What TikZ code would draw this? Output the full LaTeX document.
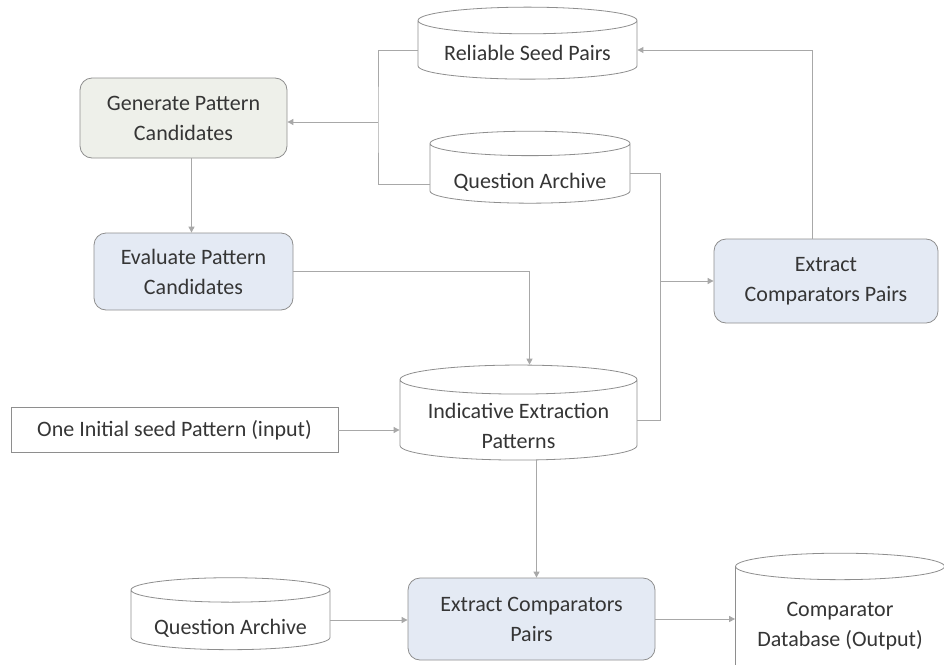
\documentclass[tikz,border=0pt]{standalone}
\usepackage{fontspec}
\setmainfont{Carlito}
\usetikzlibrary{shapes.geometric,arrows.meta}
\definecolor{linegray}{HTML}{A8A8A8}
\definecolor{edgegray}{HTML}{8E8E8E}
\definecolor{txtgray}{HTML}{353535}
\definecolor{greenfill}{HTML}{EEF0EA}
\definecolor{bluefill}{HTML}{E4EAF4}
\begin{document}
\begin{tikzpicture}[x=1pt, y=-1pt,
		every node/.style={font=\fontsize{22}{30}\selectfont, text=txtgray, align=center},
		proc/.style={draw=edgegray, line width=0.8pt, rounded corners=12pt, fill=bluefill, inner sep=0pt},
		store/.style={draw=edgegray, line width=0.8pt, cylinder, shape border rotate=90, aspect=0.16, fill=white, inner sep=0pt},
		lift/.style={execute at begin node={\rule{0pt}{#1}}},
		link/.style={draw=linegray, line width=0.9pt},
		arr/.style={link, -{Triangle[length=6pt,width=6pt]}}]
				\useasboundingbox (0,0) rectangle (944,664);
				%stores
				\node (rsp) at (527.5,50) [store, lift=21pt, minimum width=219pt, minimum height=72pt]{Reliable Seed Pairs};
				\node (qa) at (530,173.5) [store, lift=32pt, minimum width=200pt, minimum height=63pt]{Question Archive};
				\node (iep) at (518.5,420) [store, inner ysep=-14pt, minimum width=237pt, minimum height=95pt]{\rule{0pt}{27pt}Indicative Extraction\\Patterns};
				\node (qab) at (230.5,620) [store, lift=32pt, minimum width=199pt, minimum height=70pt]{Question Archive};
				\node (cdb) at (840,626) [store, minimum width=209pt, minimum height=132pt]{Comparator\\Database (Output)};
				%processes
				\node (gpc) at (183.5,118) [proc, fill=greenfill, minimum width=207pt, minimum height=80pt]{Generate Pattern\\Candidates};
				\node (epc) at (193.5,271.5) [proc, minimum width=199pt, minimum height=77pt]{Evaluate Pattern\\Candidates};
				\node (ecp) at (826,281) [proc, minimum width=224pt, minimum height=84pt]{Extract\\Comparators Pairs};
				\node (ecpb) at (531.5,619) [proc, minimum width=247pt, minimum height=82pt]{Extract Comparators\\Pairs};
				%input
				\node (seed) at (174.5,430) [draw=edgegray, line width=0.8pt, minimum width=327pt, minimum height=45pt]{One Initial seed Pattern (input)};
				
				%links
				\coordinate (jl) at (378,122);
				\coordinate (jr) at (660,281);
				\draw[link] (rsp.west) -| (jl) |- ([yshift=-11pt]qa.west);
				\draw[arr] (jl) -- (jl -| gpc.east);
				\draw[link] (qa.east) -| (jr) |- (iep.east);
				\draw[arr] (jr) -- (ecp.west);
				\draw[arr] ([xshift=-14pt]ecp.north) |- (rsp.east);
				\draw[arr] ([xshift=8pt]gpc.south) -- ([xshift=8pt]gpc.south |- epc.north);
				\draw[arr] (epc.east) -| ([xshift=11pt]iep.north);
				\draw[arr] (seed.east) -- (seed.east -| iep.west);
				\draw[arr] ([xshift=18pt]iep.south) -- ([xshift=18pt]iep.south |- ecpb.north);
				\draw[arr] (qab.east) -- (qab.east -| ecpb.west);
				\draw[arr] (ecpb.east) -- (ecpb.east -| cdb.west);
			\end{tikzpicture}
\end{document}
